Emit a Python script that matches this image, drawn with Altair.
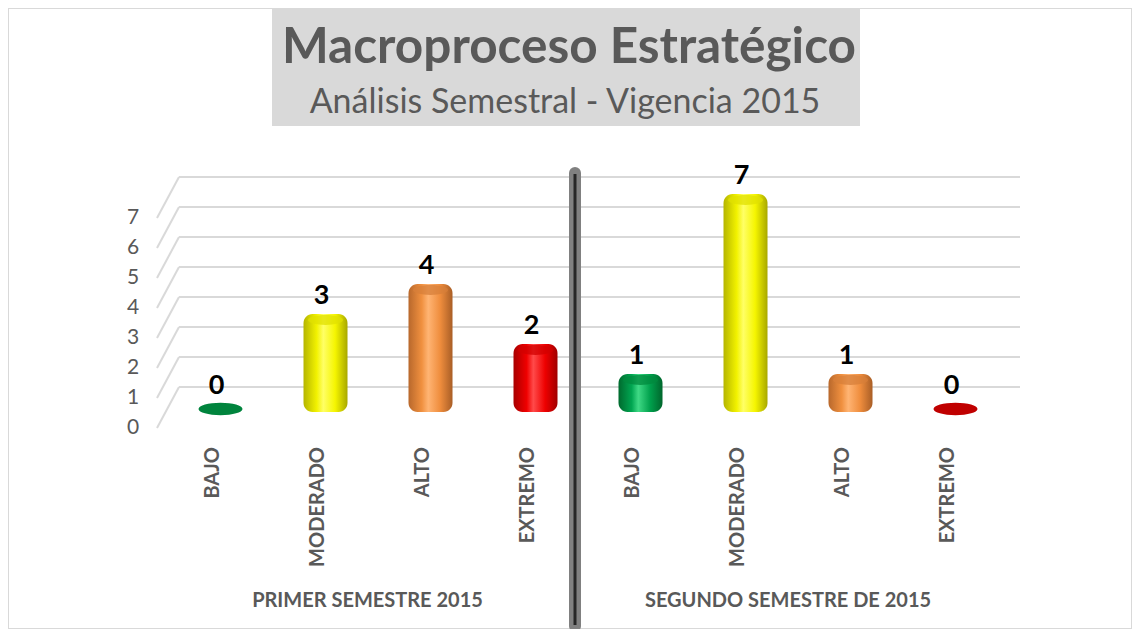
import altair as alt
import pandas as pd

# ---------------- data ----------------
niveles = ["BAJO", "MODERADO", "ALTO", "EXTREMO"]
semestres = ["PRIMER SEMESTRE 2015", "SEGUNDO SEMESTRE DE 2015"]
valores_primer = [0, 3, 4, 2]
valores_segundo = [1, 7, 1, 0]
ticks_y = [0, 1, 2, 3, 4, 5, 6, 7]
titulo = "Macroproceso Estratégico"
subtitulo = "Análisis Semestral - Vigencia 2015"

rows = []
for s, vals in zip(semestres, [valores_primer, valores_segundo]):
    for n, v in zip(niveles, vals):
        rows.append({"key": s + " | " + n, "semestre": s, "nivel": n, "valor": v, "base": 0})
df = pd.DataFrame(rows)
order = list(df["key"])
df_ticks = pd.DataFrame({"t": ticks_y})
one = pd.DataFrame({"a": [0]})

# ---------------- style ----------------
FONT = "Lato"
GRAY = "#595959"
W, H = 1124, 621
xs = alt.Scale(domain=order, range=[160, 1000], paddingInner=0, paddingOuter=0)
ys = alt.Scale(domain=[0, 7], range=[400, 190], nice=False, zero=False)

grad_stops = {
    "BAJO": ["#006a2e", "#00a651", "#3fd985", "#00a04c", "#00662c"],
    "MODERADO": ["#b5b500", "#f2f200", "#ffff66", "#f5f500", "#a8a800"],
    "ALTO": ["#b8682c", "#f0903f", "#ffb473", "#ef8d3d", "#a95e26"],
    "EXTREMO": ["#a80000", "#f00000", "#ff4a4a", "#ee0000", "#a00000"],
}
top_colors = ["#008a3e", "#e0e000", "#d77f3a", "#d20000"]
disc_colors = ["#00843d", "#e6e600", "#e0853d", "#c00000"]


def grad(stops):
    offs = [0, 0.3, 0.45, 0.72, 1]
    return alt.Gradient(
        gradient="linear", x1=0, y1=0, x2=1, y2=0,
        stops=[alt.GradientStop(offset=o, color=c) for o, c in zip(offs, stops)],
    )


X = alt.X("key:N", scale=xs, axis=None, sort=order)
Y = alt.Y("valor:Q", scale=ys, axis=None)
ELLIPSE = "M -1 0 A 1 0.28 0 1 0 1 0 A 1 0.28 0 1 0 -1 0 Z"

layers = []

# title box
layers.append(
    alt.Chart(one).mark_rect(color="#d9d9d9").encode(
        x=alt.value(264), x2=alt.value(852), y=alt.value(0), y2=alt.value(118)
    )
)
layers.append(
    alt.Chart(one).mark_text(
        text=titulo, font=FONT, fontSize=49.5, fontWeight="bold", color=GRAY,
        align="center", baseline="alphabetic",
    ).encode(x=alt.value(561), y=alt.value(55))
)
layers.append(
    alt.Chart(one).mark_text(
        text=subtitulo, font=FONT, fontSize=34, color=GRAY,
        align="center", baseline="alphabetic",
    ).encode(x=alt.value(557), y=alt.value(105))
)

# 3D-like gridlines: back wall lines + diagonal floor connectors
YT = alt.Y("t:Q", scale=ys, axis=None)
layers.append(
    alt.Chart(df_ticks).mark_rule(color="#d9d9d9", strokeWidth=2, yOffset=-21).encode(
        x=alt.value(171), x2=alt.value(1012), y=YT
    )
)
layers.append(
    alt.Chart(df_ticks).mark_rule(color="#d9d9d9", strokeWidth=2, yOffset=20, y2Offset=-21).encode(
        x=alt.value(149), x2=alt.value(171), y=YT, y2=alt.Y2("t:Q")
    )
)
# y tick labels
layers.append(
    alt.Chart(df_ticks).mark_text(
        font=FONT, fontSize=21, color=GRAY, align="center", baseline="middle", dy=20
    ).encode(x=alt.value(125), y=YT, text="t:Q")
)

# cylinders (one layer per colour so each gets its own gradient)
for n in niveles:
    layers.append(
        alt.Chart(df).transform_filter(
            f"datum.nivel == '{n}' && datum.valor > 0"
        ).mark_bar(
            size=44, cornerRadius=9, color=grad(grad_stops[n]), yOffset=-4, y2Offset=4
        ).encode(x=X, y=Y, y2=alt.Y2("base:Q"))
    )

# top faces of the cylinders
layers.append(
    alt.Chart(df).transform_filter("datum.valor > 0").mark_point(
        shape=ELLIPSE, size=1225, filled=True, opacity=0.75, yOffset=2
    ).encode(
        x=X, y=Y,
        color=alt.Color("nivel:N", scale=alt.Scale(domain=niveles, range=top_colors), legend=None),
    )
)

# flat discs for zero values
layers.append(
    alt.Chart(df).transform_filter("datum.valor == 0").mark_point(
        shape=ELLIPSE, size=1936, filled=True, opacity=1, yOffset=1
    ).encode(
        x=X, y=Y,
        fill=alt.Fill("nivel:N", scale=alt.Scale(domain=niveles, range=disc_colors), legend=None),
    )
)

# value labels
layers.append(
    alt.Chart(df).mark_text(
        font=FONT, fontSize=27, fontWeight="bold", color="black",
        align="center", baseline="middle", dy=-22, xOffset=-4,
    ).encode(x=X, y=Y, text="valor:Q")
)

# category labels (rotated)
layers.append(
    alt.Chart(df).mark_text(
        font=FONT, fontSize=20, fontWeight="bold", color=GRAY,
        angle=270, align="right", baseline="middle", xOffset=-8,
    ).encode(x=X, y=alt.value(439), text="nivel:N")
)

# group labels
for s, xpos in zip(semestres, [359.5, 780]):
    layers.append(
        alt.Chart(one).mark_text(
            text=s, font=FONT, fontSize=20, fontWeight="bold", color=GRAY,
            align="center", baseline="middle",
        ).encode(x=alt.value(xpos), y=alt.value(593))
    )

# separator between semesters
layers.append(
    alt.Chart(one).mark_rule(color="#808080", strokeWidth=12, strokeCap="round").encode(
        x=alt.value(567), y=alt.value(165), y2=alt.value(618)
    )
)
layers.append(
    alt.Chart(one).mark_rule(color="#262626", strokeWidth=3).encode(
        x=alt.value(567), y=alt.value(166), y2=alt.value(617)
    )
)

chart = alt.layer(*layers).properties(
    width=W, height=H,
    autosize=alt.AutoSizeParams(type="none"),
    padding={"left": 0, "top": 0, "right": 0, "bottom": 0},
    background="white",
).configure_view(stroke="#d9d9d9", strokeWidth=2)

chart.save("out.html", embed_options={"renderer": "svg", "actions": False})
